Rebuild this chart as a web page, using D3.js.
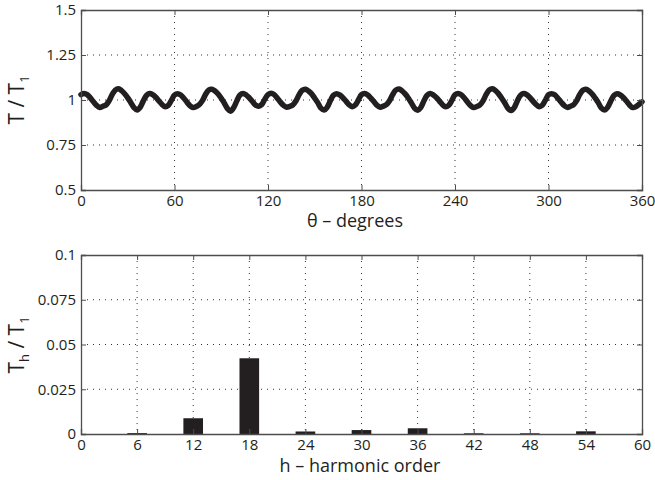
<!DOCTYPE html>
<html><head><meta charset="utf-8">
<script src="https://cdn.jsdelivr.net/npm/d3@7"></script>
<style>
body{margin:0;background:#fff;}
text{font-family:"Open Sans","Noto Sans",sans-serif;fill:#231f20;}
</style></head>
<body><svg id="c" width="655" height="480"></svg>
<script>
// ---- data ----
const thetaTicks = [0,60,120,180,240,300,360];
const torqueTicks = [0.5,0.75,1,1.25,1.5];
const torqueTickLabels = ["0.5","0.75","1","1.25","1.5"];
const thetaStepDeg = 2;
const torqueRatio = [
 1.030,1.036,1.030,1.012,0.990,0.970,0.958,0.965,0.972,0.995,1.030,1.055,1.062,1.052,1.035,1.012,0.985,0.958,0.945,0.960,0.995,1.025,1.036,1.030,1.015,0.995,0.975,0.962,0.970,0.998,
 1.028,1.035,1.028,1.010,0.988,0.968,0.958,0.964,0.975,0.998,1.032,1.056,1.060,1.050,1.033,1.010,0.982,0.952,0.938,0.958,0.995,1.028,1.036,1.028,1.012,0.992,0.972,0.965,0.975,1.005,
 1.030,1.038,1.030,1.010,0.988,0.970,0.960,0.965,0.973,0.996,1.030,1.054,1.060,1.050,1.034,1.010,0.984,0.955,0.944,0.960,0.996,1.026,1.035,1.028,1.013,0.994,0.974,0.963,0.972,1.000,
 1.030,1.036,1.028,1.010,0.990,0.970,0.960,0.966,0.974,0.996,1.030,1.055,1.061,1.051,1.034,1.011,0.984,0.955,0.943,0.958,0.994,1.025,1.036,1.029,1.014,0.994,0.974,0.962,0.971,0.998,
 1.029,1.036,1.029,1.011,0.989,0.969,0.958,0.964,0.973,0.995,1.031,1.056,1.062,1.052,1.034,1.010,0.983,0.954,0.942,0.958,0.995,1.026,1.036,1.030,1.014,0.994,0.975,0.963,0.971,0.999,
 1.030,1.035,1.029,1.010,0.989,0.970,0.959,0.965,0.973,0.995,1.030,1.054,1.060,1.050,1.033,1.010,0.984,0.955,0.944,0.960,0.995,1.025,1.035,1.029,1.014,0.994,0.972,0.958,0.962,0.975,
 0.990
];
const harmonicOrders = [6,12,18,24,30,36,42,48,54];
const harmonicValues = [0.0005,0.0088,0.0423,0.0014,0.0022,0.0032,0.0004,0.0004,0.0015];
const hTicks = [0,6,12,18,24,30,36,42,48,54,60];
const harmTicks = [0,0.025,0.05,0.075,0.1];
const harmTickLabels = ["0","0.025","0.05","0.075","0.1"];

// ---- drawing ----
const svg = d3.select("#c");
const ink = "#231f20", frame = "#4d4d4d";
const L = 81, R = 642;

function panel(top, bottom, xDom, yDom, xT, yT){
  const x = d3.scaleLinear().domain(xDom).range([L,R]);
  const y = d3.scaleLinear().domain(yDom).range([bottom,top]);
  const g = svg.append("g");
  g.selectAll(".gx").data(xT.filter((d,i)=>i>0&&i<xT.length-1)).join("line")
    .attr("x1",d=>x(d)).attr("x2",d=>x(d)).attr("y1",top).attr("y2",bottom)
    .attr("stroke","#333").attr("stroke-width",1).attr("stroke-dasharray","1,5");
  g.selectAll(".gy").data(yT.filter((d,i)=>i>0&&i<yT.length-1)).join("line")
    .attr("y1",d=>y(d)).attr("y2",d=>y(d)).attr("x1",L).attr("x2",R)
    .attr("stroke","#333").attr("stroke-width",1).attr("stroke-dasharray","1,5");
  return {x,y,g,top,bottom};
}
function frameAxes(p, xT, yT, yLabels){
  const {x,y,top,bottom} = p;
  const fg = svg.append("g");
  const xb = fg.append("g").attr("transform",`translate(0,${bottom})`)
    .call(d3.axisBottom(x).tickValues(xT).tickSize(-5).tickPadding(5).tickFormat(d3.format("d")));
  const xt = fg.append("g").attr("transform",`translate(0,${top})`)
    .call(d3.axisTop(x).tickValues(xT).tickSize(-5).tickFormat(""));
  const yl = fg.append("g").attr("transform",`translate(${L},0)`)
    .call(d3.axisLeft(y).tickValues(yT).tickSize(-5).tickPadding(5).tickFormat((d,i)=>yLabels[i]));
  const yr = fg.append("g").attr("transform",`translate(${R},0)`)
    .call(d3.axisRight(y).tickValues(yT).tickSize(-5).tickFormat(""));
  [xb,xt,yl,yr].forEach(a=>{
    a.select(".domain").attr("stroke",frame).attr("stroke-width",1.3);
    a.selectAll(".tick line").attr("stroke",frame).attr("stroke-width",1);
    a.selectAll("text").attr("font-size",15).attr("fill",ink)
      .style("font-family",'"Open Sans","Noto Sans",sans-serif');
  });
  return {xb,yl};
}

// top panel
const p1 = panel(10,190,[0,360],[0.5,1.5],thetaTicks,torqueTicks);
const thetas = torqueRatio.map((v,i)=>i*thetaStepDeg);
p1.g.append("path").datum(torqueRatio)
  .attr("fill","none").attr("stroke",ink).attr("stroke-width",5.5)
  .attr("stroke-linejoin","round").attr("stroke-linecap","round")
  .attr("d",d3.line().x((d,i)=>p1.x(thetas[i])).y(d=>p1.y(d)).curve(d3.curveCatmullRom));
frameAxes(p1,thetaTicks,torqueTicks,torqueTickLabels);

// bottom panel
const p2 = panel(255,434,[0,60],[0,0.1],hTicks,harmTicks);
const barW = 2.1;
p2.g.selectAll("rect.bar").data(harmonicOrders).join("rect")
  .attr("x",(d)=>p2.x(d-barW/2)).attr("width",p2.x(barW)-p2.x(0))
  .attr("y",(d,i)=>p2.y(harmonicValues[i])).attr("height",(d,i)=>p2.y(0)-p2.y(harmonicValues[i]))
  .attr("fill",ink);
frameAxes(p2,hTicks,harmTicks,harmTickLabels);

// titles
svg.append("text").attr("x",355).attr("y",227).attr("text-anchor","middle").attr("font-size",18)
  .text("θ – degrees");
svg.append("text").attr("x",360).attr("y",472).attr("text-anchor","middle").attr("font-size",18)
  .text("h – harmonic order");
const t1 = svg.append("text").attr("transform","translate(24,100) rotate(-90)").attr("text-anchor","middle").attr("font-size",21);
t1.append("tspan").text("T / T");
t1.append("tspan").attr("font-size",13).attr("dy",5).text("1");
const t2 = svg.append("text").attr("transform","translate(24,345) rotate(-90)").attr("text-anchor","middle").attr("font-size",21);
t2.append("tspan").text("T");
t2.append("tspan").attr("font-size",13).attr("dy",5).text("h");
t2.append("tspan").attr("dy",-5).text(" / T");
t2.append("tspan").attr("font-size",13).attr("dy",5).text("1");
</script></body></html>
